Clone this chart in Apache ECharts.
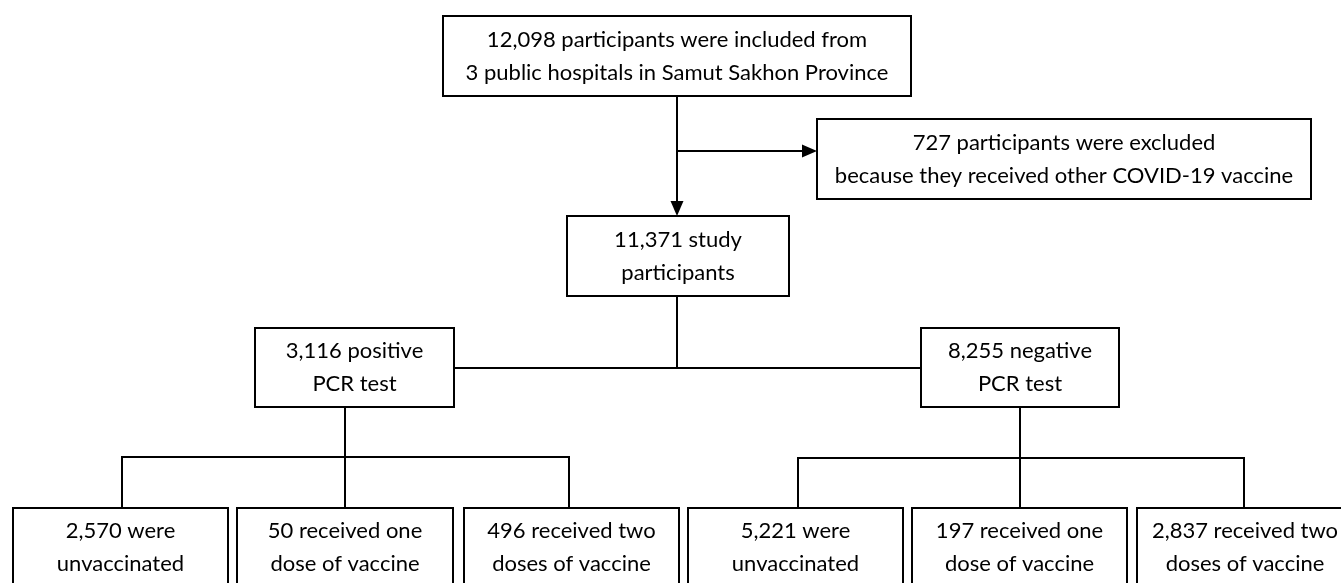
<!DOCTYPE html>
<html>
<head>
<meta charset="utf-8">
<script src="https://cdn.jsdelivr.net/npm/echarts@6/dist/echarts.min.js"></script>
<style>
html,body{margin:0;padding:0;background:#fff;}
#chart{width:1341px;height:583px;}
</style>
</head>
<body>
<div id="chart"></div>
<script>
// ---- content ----
const nodeLabels = [
  '12,098 participants were included from\n3 public hospitals in Samut Sakhon Province',
  '727 participants were excluded\nbecause they received other COVID-19 vaccine',
  '11,371 study\nparticipants',
  '3,116 positive\nPCR test',
  '8,255 negative\nPCR test',
  '2,570 were\nunvaccinated',
  '50 received one\ndose of vaccine',
  '496 received two\ndoses of vaccine',
  '5,221 were\nunvaccinated',
  '197 received one\ndose of vaccine',
  '2,837 received two\ndoses of vaccine'
];
const participantCounts = [12098, 727, 11371, 3116, 8255, 2570, 50, 496, 5221, 197, 2837];

// ---- layout (diagram coordinates: x0, y0, x1, y1) ----
const nodeLayout = [
  [443, 16, 911, 96],
  [817, 119, 1311, 199],
  [567, 216, 789, 296],
  [255, 328, 454, 407],
  [921, 328, 1119, 407],
  [13, 508, 228, 588],
  [237, 508, 453, 588],
  [464, 508, 679, 588],
  [688, 508, 903, 588],
  [912, 508, 1127, 588],
  [1137, 508, 1353, 588]
];
// connectors: x0, y0, x1, y1, arrow(1/0)
const connectorLayout = [
  [677, 96, 677, 216, 1],
  [677, 151, 817, 151, 1],
  [677, 296, 677, 368, 0],
  [454, 368, 921, 368, 0],
  [345, 407, 345, 457, 0],
  [121, 457, 570, 457, 0],
  [122, 457, 122, 508, 0],
  [345, 457, 345, 508, 0],
  [569, 457, 569, 508, 0],
  [1020, 407, 1020, 458, 0],
  [797, 458, 1245, 458, 0],
  [798, 458, 798, 508, 0],
  [1020, 458, 1020, 508, 0],
  [1244, 458, 1244, 508, 0]
];

const chart = echarts.init(document.getElementById('chart'), null, {renderer: 'canvas'});

const boxData = nodeLayout.map((b, i) => [b[0], b[1], b[2], b[3], i]);
const lineData = connectorLayout.map(c => c.slice());

const option = {
  backgroundColor: '#ffffff',
  animation: false,
  grid: {left: 0, right: 0, top: 0, bottom: 0},
  xAxis: {type: 'value', min: 0, max: 1341, show: false},
  yAxis: {type: 'value', min: 0, max: 583, inverse: true, show: false},
  series: [
    {
      type: 'custom',
      name: 'connectors',
      clip: false,
      silent: true,
      data: lineData,
      encode: {x: [0, 2], y: [1, 3]},
      renderItem: function (params, api) {
        const p0 = api.coord([api.value(0), api.value(1)]);
        const p1 = api.coord([api.value(2), api.value(3)]);
        const arrow = api.value(4);
        const children = [];
        let end = p1.slice();
        let poly = null;
        if (arrow) {
          const dx = p1[0] - p0[0], dy = p1[1] - p0[1];
          const len = Math.sqrt(dx * dx + dy * dy);
          const ux = dx / len, uy = dy / len;
          const L = 15, W = 6.5;
          const bx = p1[0] - ux * L, by = p1[1] - uy * L;
          end = [bx, by];
          poly = [[p1[0], p1[1]], [bx - uy * W, by + ux * W], [bx + uy * W, by - ux * W]];
        }
        children.push({
          type: 'line',
          shape: {x1: p0[0], y1: p0[1], x2: end[0], y2: end[1]},
          style: {stroke: '#000', lineWidth: 2}
        });
        if (poly) {
          children.push({type: 'polygon', shape: {points: poly}, style: {fill: '#000'}});
        }
        return {type: 'group', children: children};
      }
    },
    {
      type: 'custom',
      name: 'boxes',
      clip: false,
      silent: true,
      data: boxData,
      encode: {x: [0, 2], y: [1, 3]},
      renderItem: function (params, api) {
        const a = api.coord([api.value(0), api.value(1)]);
        const b = api.coord([api.value(2), api.value(3)]);
        const idx = api.value(4);
        const x = Math.min(a[0], b[0]), y = Math.min(a[1], b[1]);
        const w = Math.abs(b[0] - a[0]), h = Math.abs(b[1] - a[1]);
        let cy = y + h / 2;
        if (idx >= 5) cy = y + 39;
        return {
          type: 'group',
          children: [
            {
              type: 'rect',
              shape: {x: x, y: y, width: w, height: h},
              style: {fill: '#fff', stroke: '#000', lineWidth: 2}
            },
            {
              type: 'text',
              style: {
                text: nodeLabels[idx],
                x: x + w / 2,
                y: cy,
                align: 'center',
                verticalAlign: 'middle',
                fontFamily: 'Lato',
                fontSize: 22,
                lineHeight: 33,
                fill: '#000'
              }
            }
          ]
        };
      }
    }
  ]
};
chart.setOption(option);
</script>
</body>
</html>
